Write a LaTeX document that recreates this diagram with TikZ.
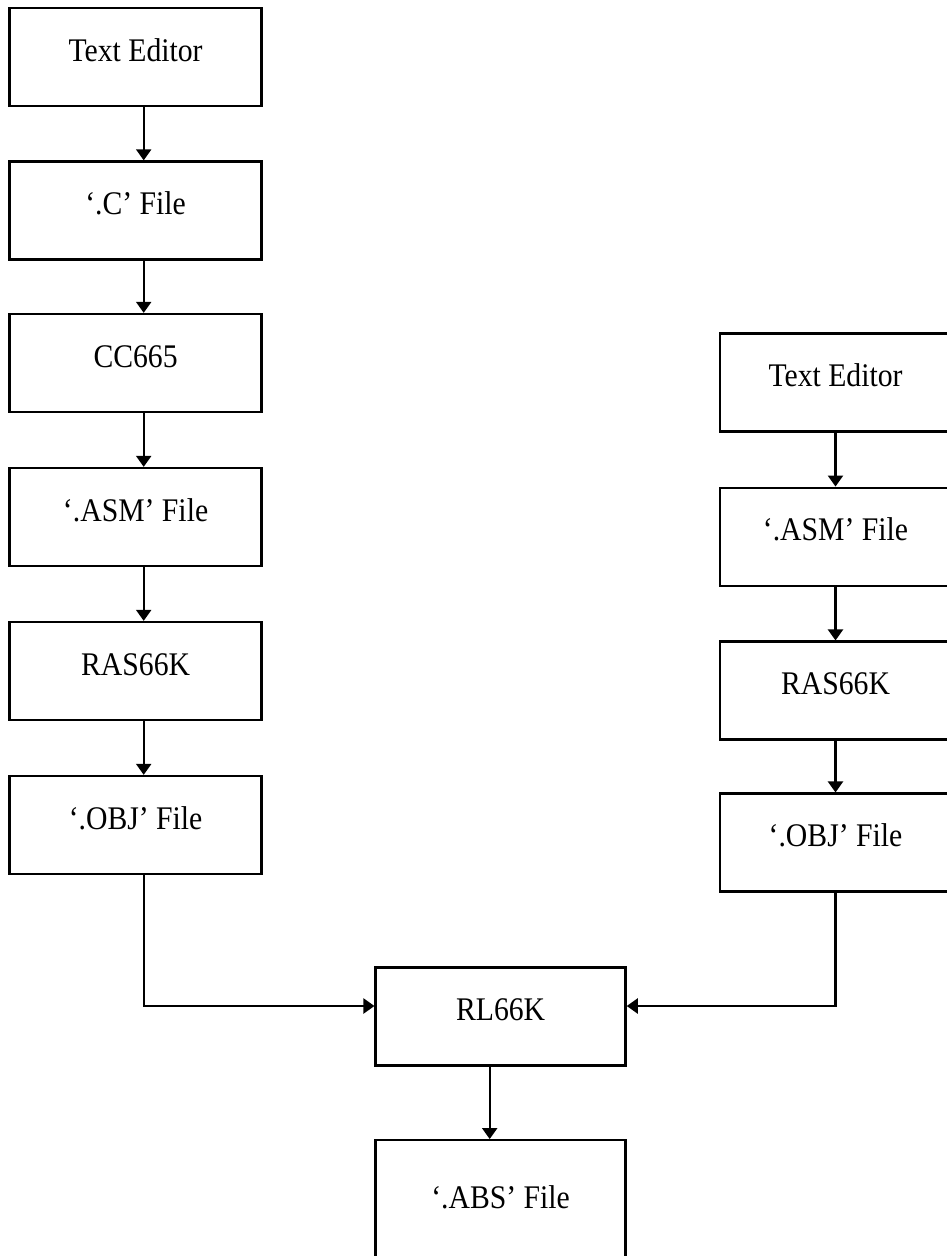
\documentclass[tikz,border=0pt]{standalone}
\usepackage{fontspec}
\setmainfont{Liberation Serif}[FakeStretch=0.9]
\usetikzlibrary{arrows.meta,calc}
\begin{document}
\begin{tikzpicture}[x=1pt,y=-1pt,
  box/.style={draw=black,line width=2.3pt,rectangle,minimum height=98pt,
    font=\fontsize{33}{36}\selectfont,text height=22pt,text depth=14pt,inner sep=0pt},
  lbox/.style={box,minimum width=252pt},
  rbox/.style={box,minimum width=231pt},
  conn/.style={line width=2.2pt,-{Triangle[length=11pt,width=15pt]}}]
\useasboundingbox (0,0) rectangle (947,1256);
% left column
\node[lbox] (l1) at (135.6,57) {Text Editor};
\node[lbox] (l2) at (135.6,210.5) {‘.C’ File};
\node[lbox] (l3) at (135.6,363) {CC665};
\node[lbox] (l4) at (135.6,517) {‘.ASM’ File};
\node[lbox] (l5) at (135.6,671) {RAS66K};
\node[lbox] (l6) at (135.6,825) {‘.OBJ’ File};
% right column
\node[rbox] (r1) at (835.5,382.5) {Text Editor};
\node[rbox] (r2) at (835.5,536.7) {‘.ASM’ File};
\node[rbox] (r3) at (835.5,690.6) {RAS66K};
\node[rbox] (r4) at (835.5,842.6) {‘.OBJ’ File};
% bottom
\node[box,minimum width=250pt] (rl) at (500.6,1016.4) {RL66K};
\node[box,minimum width=250pt,minimum height=128pt] (abs) at (500.6,1204.2) {‘.ABS’ File};
% connectors
\foreach \a/\b in {l1/l2,l2/l3,l3/l4,l4/l5,l5/l6}{
  \draw[conn] ([xshift=8.1pt]\a.south) -- ([xshift=8.1pt]\b.north);
}
\foreach \a/\b in {r1/r2,r2/r3,r3/r4}{
  \draw[conn] (\a.south) -- (\b.north);
}
\coordinate (lin) at ([yshift=10.4pt]rl.west);
\coordinate (rin) at ([yshift=10.4pt]rl.east);
\draw[conn] ([xshift=8.1pt]l6.south) |- (lin);
\draw[conn] (r4.south) |- (rin);
\draw[conn] ([xshift=-10.9pt]rl.south) -- ([xshift=-10.9pt]abs.north);
\end{tikzpicture}
\end{document}
